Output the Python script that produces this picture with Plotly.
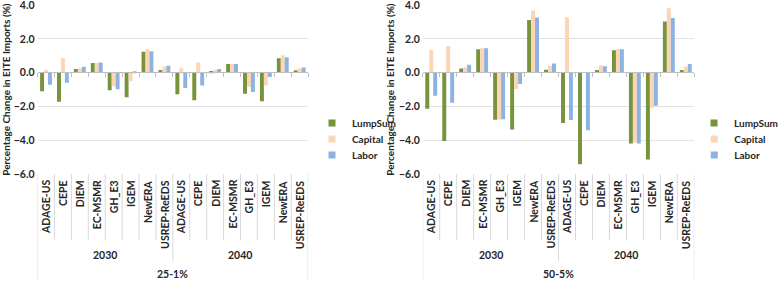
import plotly.graph_objects as go

W, H = 783, 281

models = ["ADAGE-US", "CEPE", "DIEM", "EC-MSMR", "GH_E3", "IGEM", "NewERA", "USREP-ReEDS"]
years = ["2030", "2040"]
scenarios = ["25-1%", "50-5%"]
series_names = ["LumpSum", "Capital", "Labor"]
series_colors = ["#77933C", "#FCD5B5", "#8DB3E2"]
y_ticks = [-6, -4, -2, 0, 2, 4]

# 25-1% scenario: 2030 models then 2040 models
lump_25 = [-1.10, -1.72, 0.22, 0.57, -1.04, -1.45, 1.24, 0.16,
           -1.27, -1.63, 0.10, 0.51, -1.25, -1.69, 0.86, 0.14]
capital_25 = [0.18, 0.86, 0.27, 0.58, -0.80, -0.51, 1.39, 0.37,
              0.29, 0.60, 0.18, 0.52, -0.84, -0.75, 1.04, 0.27]
labor_25 = [-0.72, -0.59, 0.35, 0.60, -0.98, 0.06, 1.27, 0.41,
            -0.90, -0.76, 0.22, 0.52, -1.14, -0.26, 0.92, 0.31]

# 50-5% scenario
lump_50 = [-2.14, -4.04, 0.25, 1.39, -2.78, -3.37, 3.12, 0.18,
           -2.98, -5.43, 0.16, 1.33, -4.20, -5.14, 3.04, 0.16]
capital_50 = [1.33, 1.59, 0.33, 1.45, -2.78, -0.96, 3.69, 0.41,
              3.29, 0.0, 0.45, 1.41, -4.12, -2.08, 3.82, 0.37]
labor_50 = [-1.37, -1.78, 0.47, 1.45, -2.76, -0.67, 3.27, 0.55,
            -2.80, -3.41, 0.39, 1.39, -4.20, -1.96, 3.24, 0.51]

panels = [
    (scenarios[0], [lump_25, capital_25, labor_25]),
    (scenarios[1], [lump_50, capital_50, labor_50]),
]

FONT = "Lato"
TXT = "#262626"

x_idx = list(range(len(models) * len(years)))

# pixel geometry
x_doms_px = [(39, 320), (439, 721)]
legend_x_px = [324, 721]
legend_y_px = [123, 139, 155]
plot_top, plot_bot, zero_px = 5.2, 174.0, 72.0
def py(p):
    return 1 - p / H

fig = go.Figure()
shapes = []
annotations = []
layout = {}

for k, (scen, vals) in enumerate(panels):
    xa = "x" if k == 0 else "x2"
    ya = "y" if k == 0 else "y2"
    for s, (name, col) in enumerate(zip(series_names, series_colors)):
        fig.add_trace(go.Bar(
            x=x_idx, y=vals[s], name=name, marker_color=col,
            marker_line_width=0, xaxis=xa, yaxis=ya, showlegend=False,
        ))
    # legend entries (dummy square markers), one legend box per entry
    for s, (name, col) in enumerate(zip(series_names, series_colors)):
        lid = k * 3 + s + 1
        lname = "legend" if lid == 1 else f"legend{lid}"
        fig.add_trace(go.Scatter(
            x=[None], y=[None], mode="markers", name=name,
            marker=dict(symbol="square", size=7, color=col),
            xaxis=xa, yaxis=ya, legend=lname,
        ))
        layout[lname] = dict(
            font=dict(family=FONT, size=10, color=TXT, weight="bold"),
            bgcolor="rgba(0,0,0,0)", borderwidth=0, itemwidth=30,
            x=legend_x_px[k] / W, y=py(legend_y_px[s]),
            xanchor="left", yanchor="middle",
        )
    xref = xa
    n = len(x_idx)
    # label-area vertical lines
    for i in range(n + 1):
        xv = i - 0.5
        if i == 0 or i == n:
            y1 = 281
        elif i == len(models):
            y1 = 261
        else:
            y1 = 240
        shapes.append(dict(type="line", xref=xref, yref="paper",
                           x0=xv, x1=xv, y0=py(plot_bot), y1=py(y1),
                           line=dict(color="#D9D9D9", width=1)))
    # model labels
    for i in x_idx:
        annotations.append(dict(
            xref=xref, yref="paper", x=i, y=py(178), text=models[i % len(models)],
            textangle=-90, xanchor="center", yanchor="top", showarrow=False,
            font=dict(family=FONT, size=10.5, color=TXT, weight="bold")))
    # year labels
    for j, yr in enumerate(years):
        annotations.append(dict(
            xref=xref, yref="paper", x=j * len(models) + (len(models) - 1) / 2,
            y=py(255), text=yr, xanchor="center", yanchor="middle", showarrow=False,
            font=dict(family=FONT, size=10.5, color=TXT, weight="bold")))
    annotations.append(dict(
        xref=xref, yref="paper", x=(n - 1) / 2, y=py(274), text=scen,
        xanchor="center", yanchor="middle", showarrow=False,
        font=dict(family=FONT, size=10.5, color=TXT, weight="bold")))

layout.update(
    width=W, height=H,
    margin=dict(l=0, r=0, t=0, b=0, pad=0),
    paper_bgcolor="white", plot_bgcolor="white",
    barmode="group", bargap=0.3, bargroupgap=0,
    shapes=shapes, annotations=annotations,
    font=dict(family=FONT, color=TXT),
)

for k in range(2):
    sx = "" if k == 0 else "2"
    x0, x1 = x_doms_px[k]
    layout["xaxis" + sx] = dict(
        domain=[x0 / W, x1 / W], range=[-0.5, len(x_idx) - 0.5],
        anchor="free", position=py(zero_px), automargin=False,
        showline=True, linecolor="#BFBFBF", linewidth=1,
        ticks="outside", ticklen=4, tickcolor="#BFBFBF",
        tickvals=[i - 0.5 for i in range(len(x_idx) + 1)],
        showticklabels=False, showgrid=False, zeroline=False,
        fixedrange=True,
    )
    layout["yaxis" + sx] = dict(
        domain=[py(plot_bot), py(plot_top)], range=[-6.001, 4.001],
        anchor="x" + sx, tickvals=y_ticks, tickformat=".1f", automargin=False,
        showgrid=True, gridcolor="#E3E3E3", gridwidth=1, zeroline=False,
        showline=False, ticks="", ticklabelstandoff=2,
        ticklabeloverflow="allow", fixedrange=True,
        tickfont=dict(family=FONT, size=10.5, color=TXT, weight="bold"),
        title=dict(text="Percentage Change in EITE Imports (%)",
                   font=dict(family=FONT, size=10, color=TXT, weight="bold"),
                   standoff=2),
    )

fig.update_layout(**layout)
fig.write_html(
    "out.html",
    config={"displayModeBar": False},
    post_script="document.body.style.margin='0';document.body.style.overflow='hidden';",
)
